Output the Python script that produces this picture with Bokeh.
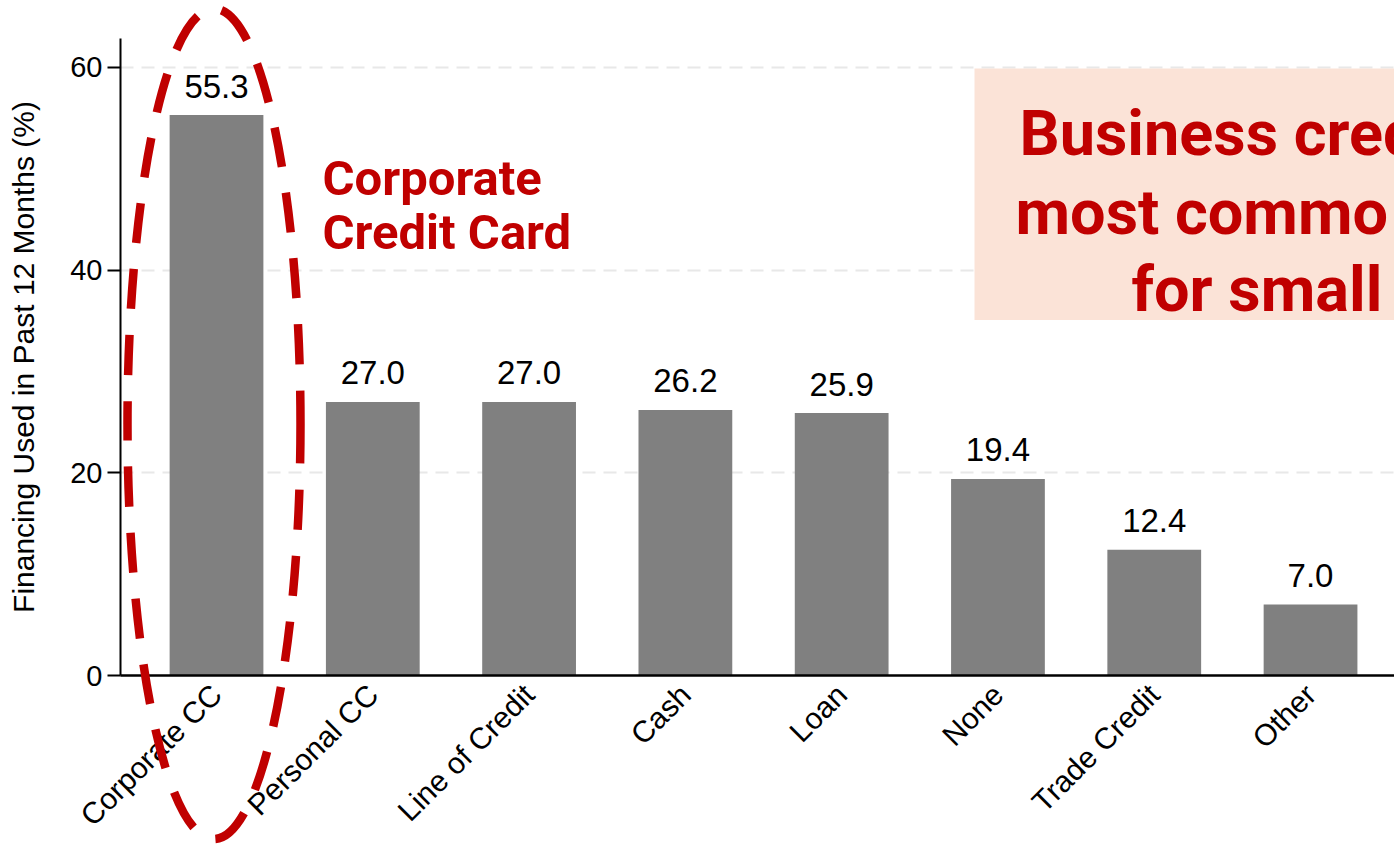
import numpy as np
from bokeh.plotting import figure
from bokeh.models import Range1d, FixedTicker, Label, BoxAnnotation, ColumnDataSource
from bokeh.core.properties import value
from bokeh.embed import file_html
from bokeh.resources import INLINE

# ---- data ----
categories = ["Corporate CC", "Personal CC", "Line of Credit", "Cash", "Loan",
              "None", "Trade Credit", "Other"]
shares = [55.3, 27.0, 27.0, 26.2, 25.9, 19.4, 12.4, 7.0]
y_ticks = [0, 20, 40, 60]
y_axis_title = "Financing Used in Past 12 Months (%)"
callout_lines = ["Corporate", "Credit Card"]
box_lines = ["Business cred", "most commo", "for small"]

# ---- layout ----
W, H = 1394, 846
BORDER_L, BORDER_T = 120, 38
FRAME_BOTTOM = 676
FRAME_W = W - BORDER_L
FRAME_H = FRAME_BOTTOM - BORDER_T
BORDER_B = H - FRAME_BOTTOM
PX_PER_CAT = 156.29
X0 = -0.6143
X1 = X0 + FRAME_W / PX_PER_CAT
Y1 = 62.86
PX_PER_Y = FRAME_H / Y1

def dx(px):
    return X0 + (px - BORDER_L) / PX_PER_CAT
def dy(py):
    return (FRAME_BOTTOM - py) / PX_PER_Y

RED = "#C00000"
FONT = "Liberation Sans"
RFONT = "Roboto"

x = list(range(len(categories)))
src = ColumnDataSource(dict(x=x, top=shares, label=[f"{v:.1f}" for v in shares]))

p = figure(width=W, height=H, output_backend="svg", toolbar_location=None,
           x_range=Range1d(X0, X1), y_range=Range1d(0, Y1))
p.min_border_left = BORDER_L
p.min_border_right = 0
p.min_border_top = BORDER_T
p.min_border_bottom = BORDER_B
p.outline_line_color = None
p.background_fill_color = "white"
p.border_fill_color = "white"

# grid
p.xgrid.visible = False
p.ygrid.ticker = FixedTicker(ticks=y_ticks)
p.ygrid.grid_line_color = "#E8E8E8"
p.ygrid.grid_line_width = 2
p.ygrid.grid_line_dash = "13 8"

# annotation box (behind)
box = BoxAnnotation(left=dx(974), right=X1 + 1, top=dy(68), bottom=dy(320),
                    fill_color="#FBE3D7", fill_alpha=1.0, line_color=None, level="underlay")
p.add_layout(box)

# bars
p.vbar(x="x", top="top", width=0.6, bottom=0, source=src,
       fill_color="#808080", line_color=None)
p.text(x="x", y="top", text="label", source=src, text_align="center",
       text_baseline="alphabetic", y_offset=-29, text_font=value(FONT),
       text_font_size="33px", text_color="black")

# axes
p.xaxis.ticker = FixedTicker(ticks=x)
p.xaxis.major_label_overrides = {i: c for i, c in enumerate(categories)}
p.xaxis.major_label_orientation = np.pi / 4
p.xaxis.major_tick_line_color = None
p.xaxis.minor_tick_line_color = None
p.xaxis.axis_line_width = 2.5
p.xaxis.axis_line_color = "black"
p.xaxis.major_label_text_font = FONT
p.xaxis.major_label_text_font_size = "30px"
p.xaxis.major_label_text_color = "black"
p.xaxis.major_label_standoff = 8

p.yaxis.ticker = FixedTicker(ticks=y_ticks)
p.yaxis.axis_line_width = 2
p.yaxis.axis_line_color = "black"
p.yaxis.major_tick_line_width = 2
p.yaxis.major_tick_line_color = "black"
p.yaxis.major_tick_out = 13
p.yaxis.major_tick_in = 0
p.yaxis.minor_tick_line_color = None
p.yaxis.major_label_text_font = FONT
p.yaxis.major_label_text_font_size = "29px"
p.yaxis.major_label_text_color = "black"
p.yaxis.major_label_standoff = 5
p.yaxis.axis_label = y_axis_title
p.yaxis.axis_label_text_font = FONT
p.yaxis.axis_label_text_font_size = "30px"
p.yaxis.axis_label_text_font_style = "normal"
p.yaxis.axis_label_text_color = "black"
p.yaxis.axis_label_standoff = 27

# dashed ellipse around first bar, drawn at overlay level so it may leave the frame
cx, cy, a, b = 213.5, 424.0, 86.5, 416.0
p.ellipse(x=[dx(cx)], y=[dy(cy)], width=[2 * a / PX_PER_CAT], height=[2 * b / PX_PER_Y],
          fill_color=None, line_color=RED, line_width=8.5, line_dash="40 26",
          level="overlay")

# callout text
for txt, base in zip(callout_lines, [178, 232]):
    p.add_layout(Label(x=dx(322), y=dy(base), text=txt, text_font=RFONT,
                       text_font_style="bold", text_font_size="49px",
                       text_color=RED, text_baseline="alphabetic", text_align="left"))

for txt, left, base in zip(box_lines, [1019, 1015, 1131], [133, 212, 289]):
    p.add_layout(Label(x=dx(left), y=dy(base), text=txt, text_font=RFONT,
                       text_font_style="bold", text_font_size="63px",
                       text_color=RED, text_baseline="alphabetic", text_align="left"))

open("out.html", "w").write(file_html(p, INLINE))
